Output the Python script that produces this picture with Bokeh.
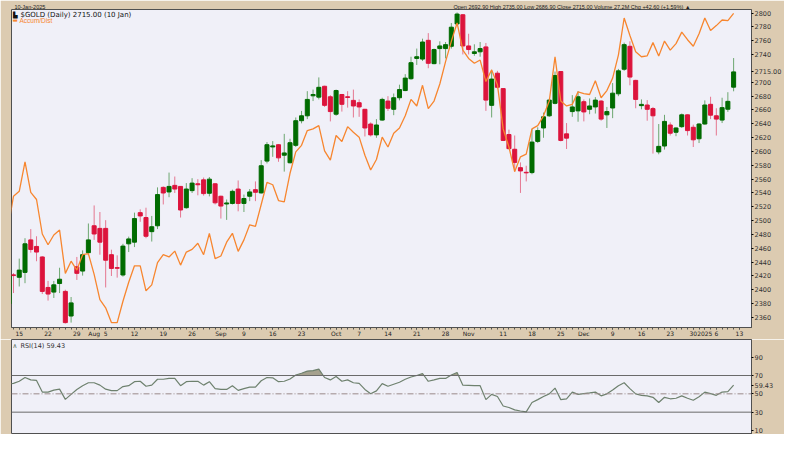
import numpy as np
import pandas as pd
from bokeh.plotting import figure
from bokeh.models import ColumnDataSource, Range1d, FixedTicker, Span, LinearAxis
from bokeh.layouts import column
from bokeh.core.properties import value
from bokeh.embed import file_html
from bokeh.resources import INLINE

# ---------------- data ----------------
holidays = ["2024-09-02", "2024-11-28", "2024-12-25", "2025-01-01", "2025-01-09"]
axis_days = [d.strftime("%Y-%m-%d") for d in pd.bdate_range("2024-07-11", "2025-01-13")
             if d.strftime("%Y-%m-%d") not in holidays]
trade_days = axis_days[:-1]   # last slot (Jan 13) is an empty future slot on the axis

open_ = [2380, 2421.5, 2418.0, 2425.1, 2472.1, 2462.6, 2447.4, 2403.3, 2396.6, 2409.0, 2397.6,
         2362.0, 2433.2, 2427.0, 2453.6, 2492.5, 2488.7, 2488.7, 2450.7, 2432.0, 2421.3,
         2466.4, 2468.8, 2511.5, 2504.4, 2484.0, 2492.5, 2548.0, 2541.4, 2550.9, 2549.4,
         2518.6, 2543.3, 2553.2, 2558.9, 2539.5, 2553.2, 2535.2, 2524.0, 2524.8, 2545.6,
         2524.8, 2535.2, 2544.7, 2540.0, 2586.0, 2606.5, 2609.7, 2594.5, 2583.6, 2608.8,
         2644.4, 2651.5, 2680.4, 2678.5, 2694.2, 2679.0, 2653.8, 2682.3, 2679.0, 2673.8,
         2670.4, 2660.9, 2639.6, 2623.9, 2645.3, 2672.8, 2660.9, 2677.6, 2688.0, 2705.1,
         2734.5, 2733.5, 2760.6, 2726.9, 2748.7, 2748.7, 2752.0, 2784.3, 2797.6, 2752.5,
         2741.6, 2744.0, 2751.1, 2666.6, 2713.1, 2690.8, 2624.4, 2603.1, 2576.5, 2569.8,
         2569.4, 2614.5, 2633.9, 2651.5, 2669.5, 2715.5, 2625.4, 2657.6, 2658.6, 2671.9,
         2660.9, 2664.3, 2672.8, 2652.9, 2662.8, 2683.3, 2718.8, 2752.0, 2702.7, 2666.2,
         2667.1, 2661.9, 2599.3, 2607.8, 2638.2, 2627.7, 2635.8, 2652.9, 2634.9, 2618.3,
         2639.6, 2668.1, 2651.5, 2645.3, 2661.0, 2692.9]
high = [2428, 2424.0, 2445.0, 2474.5, 2487.7, 2477.3, 2448.5, 2412.8, 2412.8, 2431.8, 2400.0,
        2389.5, 2447.4, 2456.9, 2495.8, 2521.9, 2512.4, 2500.6, 2457.9, 2449.8, 2466.4,
        2476.8, 2511.5, 2516.2, 2518.6, 2506.7, 2548.0, 2549.4, 2569.4, 2563.7, 2550.0,
        2554.2, 2561.3, 2559.9, 2562.2, 2563.0, 2554.2, 2536.0, 2530.5, 2544.7, 2558.0,
        2537.6, 2545.6, 2556.6, 2587.4, 2613.5, 2614.9, 2610.5, 2625.4, 2618.3, 2649.1,
        2658.6, 2687.1, 2689.4, 2707.0, 2695.0, 2681.4, 2689.4, 2683.0, 2687.1, 2689.4,
        2675.2, 2661.5, 2642.0, 2646.7, 2677.6, 2679.9, 2683.7, 2696.5, 2711.7, 2736.9,
        2748.7, 2763.0, 2771.0, 2748.7, 2759.2, 2758.2, 2785.7, 2800.9, 2798.6, 2770.1,
        2754.9, 2758.2, 2756.8, 2717.9, 2716.5, 2691.5, 2631.5, 2623.0, 2584.1, 2579.3,
        2632.5, 2634.9, 2656.2, 2676.1, 2715.5, 2716.0, 2641.0, 2681.4, 2687.1, 2675.2,
        2676.6, 2678.5, 2674.2, 2664.3, 2698.9, 2719.3, 2757.3, 2759.2, 2703.5, 2675.2,
        2674.2, 2664.3, 2639.6, 2652.9, 2642.0, 2634.9, 2654.8, 2653.5, 2638.7, 2641.0,
        2673.8, 2679.0, 2662.4, 2677.6, 2685.6, 2735.0]
low = [2376, 2395.2, 2404.7, 2409.5, 2453.6, 2441.2, 2393.8, 2384.3, 2388.1, 2395.2, 2351.1,
       2352.5, 2414.2, 2420.4, 2449.8, 2472.1, 2450.7, 2403.3, 2419.9, 2417.5, 2418.9,
       2454.5, 2461.7, 2498.2, 2474.5, 2469.7, 2487.7, 2523.3, 2533.8, 2539.9, 2504.4,
       2517.2, 2539.9, 2536.6, 2536.1, 2535.0, 2523.3, 2502.9, 2501.0, 2523.3, 2513.4,
       2512.4, 2528.1, 2528.1, 2539.0, 2582.7, 2592.2, 2585.0, 2570.8, 2582.7, 2606.4,
       2640.6, 2646.7, 2672.8, 2675.2, 2664.3, 2643.4, 2651.5, 2657.6, 2663.3, 2649.1,
       2650.0, 2621.6, 2621.6, 2619.7, 2644.4, 2658.6, 2652.4, 2673.8, 2687.1, 2703.6,
       2725.0, 2730.7, 2720.3, 2726.0, 2726.0, 2734.5, 2748.7, 2782.0, 2740.2, 2740.2,
       2738.3, 2736.9, 2658.6, 2649.1, 2690.8, 2615.0, 2603.1, 2570.8, 2540.0, 2556.6,
       2567.0, 2612.1, 2619.7, 2650.0, 2668.1, 2614.5, 2603.5, 2650.0, 2642.9, 2643.4,
       2653.8, 2654.8, 2644.4, 2633.9, 2648.1, 2679.9, 2716.5, 2695.6, 2662.4, 2660.9,
       2644.4, 2596.9, 2595.9, 2602.6, 2623.0, 2622.0, 2633.9, 2623.0, 2606.4, 2612.1,
       2638.7, 2646.7, 2623.0, 2641.0, 2657.2, 2686.9]
close = [2421, 2420.5, 2428.4, 2466.4, 2458.3, 2454.5, 2397.6, 2393.8, 2407.1, 2415.2, 2352.5,
         2381.0, 2423.7, 2450.7, 2472.1, 2480.6, 2468.8, 2442.7, 2430.8, 2431.0, 2463.1,
         2473.5, 2502.9, 2506.7, 2477.3, 2491.1, 2537.6, 2539.9, 2549.4, 2545.6, 2515.3,
         2545.6, 2554.2, 2551.8, 2539.0, 2559.9, 2525.7, 2521.0, 2525.5, 2542.3, 2524.8,
         2531.9, 2541.4, 2540.9, 2579.3, 2609.7, 2608.0, 2590.7, 2597.8, 2612.6, 2644.4,
         2651.5, 2675.2, 2682.3, 2692.7, 2666.6, 2657.6, 2688.0, 2668.1, 2678.0, 2665.7,
         2664.3, 2633.9, 2623.9, 2638.2, 2675.2, 2662.4, 2677.6, 2689.4, 2706.0, 2728.3,
         2736.9, 2758.2, 2727.4, 2747.3, 2752.5, 2754.4, 2779.6, 2798.6, 2752.5, 2747.3,
         2744.0, 2748.7, 2674.2, 2704.6, 2692.7, 2615.9, 2604.0, 2584.1, 2571.8, 2569.0,
         2613.5, 2630.1, 2650.0, 2674.2, 2709.8, 2615.9, 2619.2, 2664.3, 2679.0, 2657.1,
         2665.7, 2674.2, 2646.7, 2657.6, 2684.2, 2716.5, 2754.4, 2707.5, 2675.2, 2668.0,
         2660.9, 2651.5, 2607.3, 2643.4, 2626.3, 2633.9, 2652.9, 2630.1, 2616.8, 2639.6,
         2667.1, 2652.4, 2646.7, 2663.3, 2672.4, 2715.0]
accum_dist = [2487, 2535.2, 2542.3, 2585.0, 2540.9, 2530.5, 2480.6, 2465.0, 2479.2, 2486.3, 2423.7,
              2441.3, 2428.4, 2450.7, 2452.2, 2422.3, 2385.7, 2373.9, 2352.5, 2352.5, 2383.4,
              2410.9, 2434.6, 2434.6, 2398.5, 2407.1, 2439.3, 2450.7, 2447.4, 2455.9, 2435.6,
              2454.5, 2458.3, 2467.3, 2450.7, 2481.6, 2445.0, 2448.8, 2468.8, 2481.6, 2455.5,
              2472.1, 2493.9, 2491.5, 2523.3, 2555.1, 2551.8, 2529.0, 2527.1, 2568.4, 2599.3,
              2608.8, 2630.1, 2632.5, 2637.2, 2600.7, 2587.4, 2623.0, 2614.4, 2635.8, 2627.7,
              2620.6, 2594.5, 2573.2, 2588.3, 2620.6, 2606.4, 2626.3, 2633.9, 2651.5, 2675.2,
              2665.7, 2695.6, 2661.9, 2672.8, 2697.5, 2729.8, 2759.2, 2785.7, 2746.4, 2734.5,
              2727.4, 2732.1, 2701.0, 2717.9, 2696.5, 2632.5, 2606.4, 2570.8, 2592.2, 2596.0,
              2632.5, 2637.2, 2651.5, 2672.8, 2736.9, 2672.8, 2665.7, 2668.1, 2686.1, 2683.7,
              2682.3, 2702.2, 2677.6, 2688.0, 2706.0, 2739.3, 2792.9, 2767.7, 2744.0, 2736.9,
              2738.3, 2757.3, 2737.8, 2759.6, 2746.4, 2755.9, 2772.5, 2761.5, 2752.1, 2770.1,
              2792.9, 2774.8, 2781.9, 2790.0, 2789.1, 2799.5]
rsi = [61.0, 61.4, 63.7, 67.8, 65.2, 64.6, 51.9, 51.9, 54.1, 55.1, 44.0,
       49.4, 54.8, 58.9, 62.1, 62.1, 59.5, 55.1, 53.5, 53.5, 57.9,
       58.9, 63.3, 63.7, 58.3, 59.5, 65.9, 65.9, 66.8, 66.8, 58.9,
       63.3, 63.7, 63.7, 59.5, 63.3, 55.7, 54.8, 54.8, 58.9, 53.8,
       55.7, 57.3, 57.3, 64.3, 67.8, 67.5, 63.3, 63.7, 66.2, 70.6,
       72.5, 74.8, 75.4, 77.0, 67.8, 65.2, 69.0, 63.7, 65.2, 62.1,
       61.4, 54.8, 50.0, 53.2, 61.1, 58.3, 60.5, 62.7, 65.9, 68.4,
       70.0, 72.2, 63.7, 65.2, 66.8, 66.8, 70.6, 73.2, 59.5, 59.2,
       58.9, 58.9, 43.7, 49.4, 47.1, 36.7, 35.1, 32.5, 31.3, 30.3,
       40.5, 43.7, 47.1, 50.0, 56.3, 43.7, 44.6, 51.9, 49.4, 50.3,
       51.0, 51.9, 47.8, 50.0, 54.1, 58.9, 62.1, 55.7, 50.0, 48.4,
       47.8, 46.2, 40.5, 46.2, 44.6, 45.2, 47.8, 45.2, 43.0, 46.8,
       51.9, 50.3, 48.4, 51.9, 52.5, 59.43]

week_ticks = ["2024-07-15", "2024-07-22", "2024-07-29", "2024-08-05", "2024-08-12", "2024-08-19",
              "2024-08-26", "2024-09-09", "2024-09-16", "2024-09-23", "2024-10-07", "2024-10-14",
              "2024-10-21", "2024-10-28", "2024-11-11", "2024-11-18", "2024-11-25", "2024-12-09",
              "2024-12-16", "2024-12-23", "2024-12-30", "2025-01-06", "2025-01-13"]
month_ticks = ["2024-08-01", "2024-09-03", "2024-10-01", "2024-11-01", "2024-12-02", "2025-01-02"]
month_names = ["Aug", "Sep", "Oct", "Nov", "Dec", "2025"]
price_ticks = list(range(2360, 2801, 20))
rsi_ticks = [10, 30, 50, 70, 90]
last_close = 2715.00
last_rsi = 59.43
header_date = "10-Jan-2025"
header_quote = "Open 2692.90  High 2735.00  Low 2686.90  Close 2715.00  Volume 27.2M  Chg +42.60 (+1.59%) ▲"
main_title = "$GOLD (Daily) 2715.00 (10 Jan)"
overlay_name = "Accum/Dist"
rsi_title = "RSI(14) 59.43"

# ---------------- styles ----------------
W = 784
BEIGE = "#DCCBB1"
PANEL = "#F0F0F8"
GREEN = "#006B00"
RED = "#DC143C"
ORANGE = "#F7862F"
FONT = "DejaVu Sans"
NARROW = "Liberation Sans"
FR_L, FR_R = 11, 756            # frame left / right (pixels)
H_HEAD, Y_MAIN_B, H_STRIP, H_TOTAL = 7, 330, 9, 434

def xd(px):                     # pixel -> trading-day index (5.8 px per day)
    return (px - 13) / 5.8 + 1

def yd(py):                     # pixel -> price (0.7025 px per dollar, 2800 at y=10.65)
    return 2800 - (py - 10.65) / 0.7025

R_PX = 0.9167                   # px per RSI point, 70 at y=375
def rd(py):
    return 70 - (py - 375.0) / R_PX

xpos = list(range(len(trade_days)))
colors = [GREEN if c >= o else RED for o, c in zip(open_, close)]
src = ColumnDataSource(dict(x=xpos, o=open_, h=high, l=low, c=close,
                            top=[max(o, c) for o, c in zip(open_, close)],
                            bot=[min(o, c) for o, c in zip(open_, close)],
                            col=colors, ad=accum_dist, rsi=rsi))
x_range = Range1d(xd(FR_L), xd(FR_R))

# ---------------- price panel ----------------
p = figure(width=W, height=Y_MAIN_B + H_STRIP, x_range=x_range,
           y_range=Range1d(yd(Y_MAIN_B), yd(H_HEAD)),
           x_axis_location="below", y_axis_location="right", toolbar_location=None,
           output_backend="svg", background_fill_color=PANEL, border_fill_color=BEIGE,
           outline_line_color="#505050", min_border=0, min_border_left=FR_L,
           min_border_right=W - FR_R, min_border_top=H_HEAD, min_border_bottom=H_STRIP, title=None)
p.grid.visible = False

p.segment(x0="x", y0="l", x1="x", y1="h", line_color="col", line_alpha=0.55, line_width=1, source=src)
p.vbar(x="x", width=0.7, top="top", bottom="bot", fill_color="col", line_color="col", source=src)
p.line(x="x", y="ad", line_color=ORANGE, line_width=1.3, source=src)

# price axis (right)
ya = p.yaxis[0]
shown = [t for t in price_ticks if abs(t - last_close) >= 10] + [last_close]
ya.ticker = FixedTicker(ticks=shown)
ya.major_label_overrides = {t: (f"{t:.2f}" if t == last_close else str(int(t))) for t in shown}
ya.major_label_text_font = FONT
ya.major_label_text_font_size = "6.5px"
ya.major_label_text_color = "#333333"
ya.major_tick_out = 2
ya.major_tick_in = 0
ya.minor_tick_line_color = None
ya.major_label_standoff = 1
ya.axis_line_color = "#505050"

# date axis (below): week days and month names
xa = p.xaxis[0]
wk_idx = [axis_days.index(d) for d in week_ticks]
mo_idx = [axis_days.index(d) for d in month_ticks]
xa.ticker = FixedTicker(ticks=sorted(wk_idx + mo_idx), minor_ticks=list(range(len(axis_days))))
overrides = {i: str(int(d[-2:])) for i, d in zip(wk_idx, week_ticks)}
overrides.update({i: n for i, n in zip(mo_idx, month_names)})
xa.major_label_overrides = overrides
xa.major_label_text_font = FONT
xa.major_label_text_font_size = "6px"
xa.major_label_text_color = "#222222"
xa.major_label_standoff = 0
xa.major_tick_out = 2
xa.major_tick_in = 0
xa.minor_tick_out = 2
xa.minor_tick_in = 0
xa.major_tick_line_color = "#555555"
xa.minor_tick_line_color = "#555555"
xa.axis_line_color = "#505050"

# header line (above): date on the left, quote on the right
hdr = LinearAxis()
hdr_pos = [xd(29.5), xd(579)]
hdr.ticker = FixedTicker(ticks=hdr_pos)
hdr.major_label_overrides = {hdr_pos[0]: header_date, hdr_pos[1]: header_quote}
hdr.major_label_text_font = NARROW
hdr.major_label_text_font_size = "5.5px"
hdr.major_label_text_color = "#222222"
hdr.major_label_standoff = 0
hdr.major_tick_out = 0
hdr.major_tick_in = 0
hdr.major_tick_line_color = None
hdr.minor_tick_line_color = None
hdr.axis_line_color = None
p.add_layout(hdr, "above")

# panel titles (inside the panel)
p.text(x=[xd(20)], y=[yd(H_HEAD + 1.5)], text=[main_title], text_baseline="top",
       text_font=value(FONT), text_font_size=value("7px"), text_color="#111111")
p.text(x=[xd(12.5)], y=[yd(H_HEAD + 1.5)], text=["▙"], text_baseline="top",
       text_font=value(FONT), text_font_size=value("6px"), text_color="#111111")
p.text(x=[xd(12)], y=[yd(14.5)], text=["▬"], text_baseline="top",
       text_font=value(FONT), text_font_size=value("5.5px"), text_color=ORANGE)
p.text(x=[xd(19)], y=[yd(14.5)], text=[overlay_name], text_baseline="top",
       text_font=value(NARROW), text_font_size=value("6.5px"), text_color=ORANGE)

# ---------------- RSI panel ----------------
Y_RSI_T = Y_MAIN_B + H_STRIP
r = figure(width=W, height=H_TOTAL - Y_RSI_T, x_range=x_range,
           y_range=Range1d(rd(H_TOTAL), rd(Y_RSI_T)),
           x_axis_location=None, y_axis_location="right", toolbar_location=None,
           output_backend="svg", background_fill_color=PANEL, border_fill_color=BEIGE,
           outline_line_color="#505050", min_border=0, min_border_left=FR_L,
           min_border_right=W - FR_R, min_border_top=0, min_border_bottom=0, title=None)
r.grid.visible = False

fx, fy = [], []
for i in range(len(xpos)):
    if i > 0 and (rsi[i - 1] - 70) * (rsi[i] - 70) < 0:
        t = (70 - rsi[i - 1]) / (rsi[i] - rsi[i - 1])
        fx.append(xpos[i - 1] + t)
        fy.append(70.0)
    fx.append(xpos[i])
    fy.append(max(rsi[i], 70.0))
r.varea(x=fx, y1=[70.0] * len(fx), y2=fy, fill_color="#9C9882", fill_alpha=0.9)

r.add_layout(Span(location=70, dimension="width", line_color="#6A6A6A", line_width=1))
r.add_layout(Span(location=30, dimension="width", line_color="#6A6A6A", line_width=1))
r.add_layout(Span(location=50, dimension="width", line_color="#9A8A8A", line_width=1,
                  line_dash="6 2 1 2"))
r.line(x="x", y="rsi", line_color="#6E816E", line_width=1.2, source=src)

ra = r.yaxis[0]
rshown = rsi_ticks + [last_rsi]
ra.ticker = FixedTicker(ticks=rshown)
ra.major_label_overrides = {t: (f"{t:.2f}" if t == last_rsi else str(int(t))) for t in rshown}
ra.major_label_text_font = FONT
ra.major_label_text_font_size = "6.5px"
ra.major_label_text_color = "#333333"
ra.major_tick_out = 2
ra.major_tick_in = 0
ra.minor_tick_line_color = None
ra.major_label_standoff = 1
ra.axis_line_color = "#505050"

r.text(x=[xd(20)], y=[rd(Y_RSI_T + 2.5)], text=[rsi_title], text_baseline="top",
       text_font=value(FONT), text_font_size=value("6.5px"), text_color="#333333")
r.text(x=[xd(12)], y=[rd(Y_RSI_T + 2.5)], text=["∧"], text_baseline="top",
       text_font=value(FONT), text_font_size=value("6.5px"), text_color="#556B55")

layout = column(p, r, spacing=0)
open("out.html", "w").write(file_html(layout, INLINE))
